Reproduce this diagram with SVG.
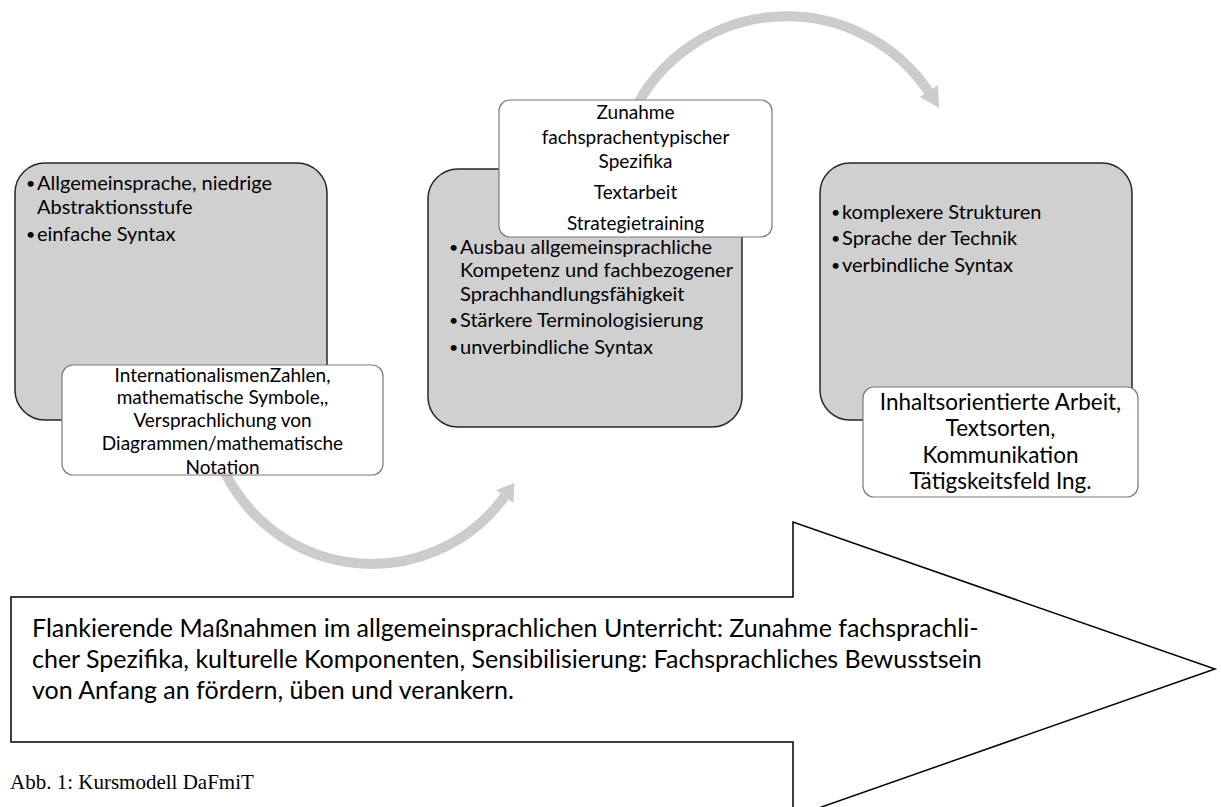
<svg xmlns="http://www.w3.org/2000/svg" width="1221" height="807" viewBox="0 0 1221 807">
<style>
.gray{fill:#d0d0d0;stroke:#262626;stroke-width:1.5}
.white{fill:#ffffff;stroke:#7a7a7a;stroke-width:1.2}
.t{font-family:Lato,"Open Sans","Liberation Sans",sans-serif;fill:#000}
.b{font-size:20px}
.bul{font-size:16px}
.w{font-size:19px;text-anchor:middle}
.w3{font-size:22.5px;text-anchor:middle}
.big{font-size:25px}
.arc{fill:none;stroke:#cccccc;stroke-width:10}
.head{fill:#cccccc}
.cap{font-family:"Liberation Serif","Times New Roman",serif;font-size:21px;fill:#000}
</style>
<rect width="1221" height="807" fill="#ffffff"/>
<g id="connectors">
<path class="arc" d="M 218 456 A 164 164 0 0 0 504.7 496.4"/>
<polygon class="head" points="496,490 514.5,483 513.5,503"/>
<path class="arc" d="M 632 115 A 171 171 0 0 1 929 92"/>
<polygon class="head" points="920,97 939,108 938,85"/>
</g>
<g id="node-flank">
<polygon points="11,597 793,597 793,522 1215,669 793,817 793,742 11,742" fill="#ffffff" stroke="#000" stroke-width="1.5"/>
<text class="t big" x="32" y="637">Flankierende Maßnahmen im allgemeinsprachlichen Unterricht: Zunahme fachsprachli-</text>
<text class="t big" x="32" y="668">cher Spezifika, kulturelle Komponenten, Sensibilisierung: Fachsprachliches Bewusstsein</text>
<text class="t big" x="32" y="699">von Anfang an fördern, üben und verankern.</text>
</g>
<g id="node-stage1">
<rect class="gray" x="15" y="163" width="312" height="257" rx="30"/>
<text class="t bul" x="26" y="189">•</text><text class="t b" x="37" y="190">Allgemeinsprache, niedrige</text>
<text class="t b" x="37" y="214">Abstraktionsstufe</text>
<text class="t bul" x="26" y="240">•</text><text class="t b" x="37" y="241">einfache Syntax</text>
</g>
<g id="node-stage1-note">
<rect class="white" x="62" y="365" width="321" height="110" rx="11"/>
<text class="t w" x="222.5" y="382">InternationalismenZahlen,</text>
<text class="t w" x="222.5" y="404">mathematische Symbole,,</text>
<text class="t w" x="222.5" y="427">Versprachlichung von</text>
<text class="t w" x="222.5" y="450">Diagrammen/mathematische</text>
<text class="t w" x="222.5" y="474">Notation</text>
</g>
<g id="node-stage2">
<rect class="gray" x="428" y="169" width="314" height="258" rx="30"/>
<text class="t bul" x="449" y="253">•</text><text class="t b" x="460" y="254">Ausbau allgemeinsprachliche</text>
<text class="t b" x="460" y="277">Kompetenz und fachbezogener</text>
<text class="t b" x="460" y="301">Sprachhandlungsfähigkeit</text>
<text class="t bul" x="449" y="326">•</text><text class="t b" x="460" y="327">Stärkere Terminologisierung</text>
<text class="t bul" x="449" y="353">•</text><text class="t b" x="460" y="354">unverbindliche Syntax</text>
</g>
<g id="node-stage2-note">
<rect class="white" x="499" y="100" width="273" height="137" rx="11"/>
<text class="t w" x="635.5" y="119">Zunahme</text>
<text class="t w" x="635.5" y="144">fachsprachentypischer</text>
<text class="t w" x="635.5" y="168">Spezifika</text>
<text class="t w" x="635.5" y="199">Textarbeit</text>
<text class="t w" x="635.5" y="230">Strategietraining</text>
</g>
<g id="node-stage3">
<rect class="gray" x="820" y="163" width="312" height="257" rx="30"/>
<text class="t bul" x="831" y="218">•</text><text class="t b" x="842" y="219">komplexere Strukturen</text>
<text class="t bul" x="831" y="244">•</text><text class="t b" x="842" y="245">Sprache der Technik</text>
<text class="t bul" x="831" y="271">•</text><text class="t b" x="842" y="272">verbindliche Syntax</text>
</g>
<g id="node-stage3-note">
<rect class="white" x="863" y="387" width="275" height="110" rx="11"/>
<text class="t w3" x="1000.5" y="410">Inhaltsorientierte Arbeit,</text>
<text class="t w3" x="1000.5" y="436">Textsorten,</text>
<text class="t w3" x="1000.5" y="463">Kommunikation</text>
<text class="t w3" x="1000.5" y="489">Tätigskeitsfeld Ing.</text>
</g>
<g id="caption">
<text class="cap" x="10" y="789">Abb. 1: Kursmodell DaFmiT</text>
</g>
</svg>
